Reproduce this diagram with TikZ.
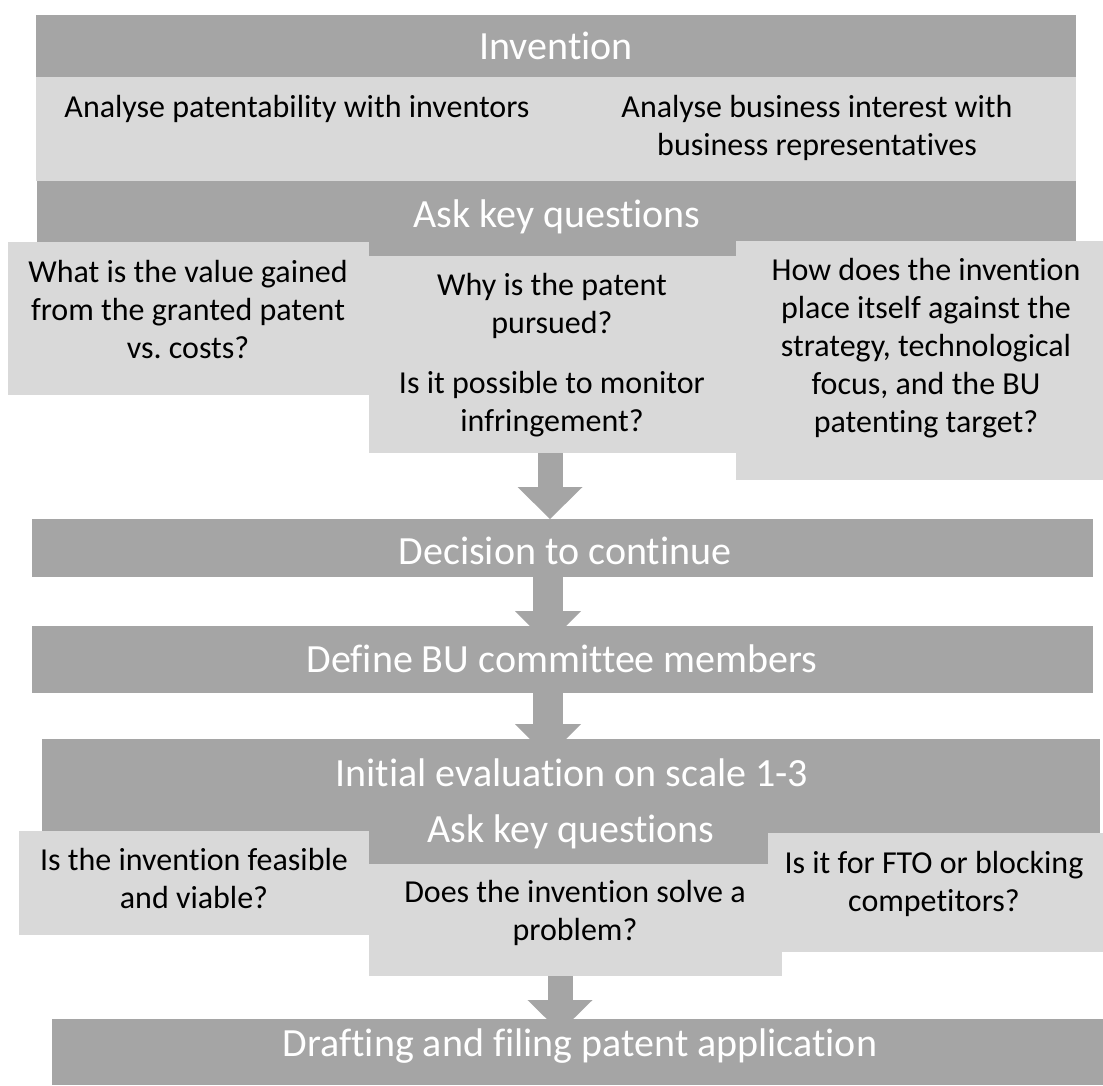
\documentclass[tikz,border=0pt]{standalone}
\usepackage{fontspec}
\setmainfont[Ligatures=NoCommon]{Carlito}
\usetikzlibrary{arrows.meta,backgrounds,calc}
\definecolor{bardark}{HTML}{A5A5A5}
\definecolor{boxlight}{HTML}{D9D9D9}
\newcommand\qstrut{\rule{0pt}{26pt}}
\frenchspacing

\tikzset{
  panel/.style={rectangle, inner sep=0pt, outer sep=0pt, anchor=north west, draw=none},
  darkbar/.style={panel, fill=bardark},
  lightbox/.style={panel, fill=boxlight},
  title/.style={text=white, font=\fontsize{40}{46}\selectfont, inner sep=0pt, anchor=base},
  bodyline/.style={text=black, font=\fontsize{32}{38}\selectfont, inner sep=0pt, anchor=base},
  qtext/.style={text=black, font=\fontsize{32}{38}\selectfont, inner sep=0pt, align=center, anchor=north},
  flowwide/.style={draw=bardark, line width=25pt, -{Triangle[width=65pt,length=32pt,line width=0pt]}},
  flowmid/.style={draw=bardark, line width=30pt, -{Triangle[width=66pt,length=33pt,line width=0pt]}}
}

\begin{document}
\begin{tikzpicture}[x=1pt,y=-1pt]
\useasboundingbox (0,0) rectangle (1103,1085);

% ---- invention and first round of questions
\node[darkbar, minimum width=1040, minimum height=62] (inv) at (36,15) {};
\node[lightbox, minimum width=1040, minimum height=104] (analyse) at (36,77) {};
\node[darkbar, minimum width=1039, minimum height=75] (askbar) at (37,181) {};
\node[lightbox, minimum width=361, minimum height=153] (valuebox) at (8,242) {};
\node[lightbox, minimum width=367, minimum height=239] (strategybox) at (736,241) {};
\node[lightbox, minimum width=367, minimum height=197] (whybox) at (369,256) {};

\node[title] (invtxt) at (556,59) {Invention};
\node[bodyline] (pattxt) at (297,117) {Analyse patentability with inventors};
\node[qtext] (bustxt) at (817,91) {\qstrut Analyse business interest with\\business representatives};
\node[title] (ask1txt) at (557,227) {Ask key questions};
\node[qtext] (valtxt) at (188,256) {\qstrut What is the value gained\\from the granted patent\\vs.\ costs?};
\node[qtext] (whytxt) at (552,269) {\qstrut Why is the patent\\pursued?\\[22pt]Is it possible to monitor\\infringement?};
\node[qtext] (strtxt) at (926,254) {\qstrut How does the invention\\place itself against the\\strategy, technological\\focus, and the BU\\patenting target?};

% ---- decision and committee
\node[darkbar, minimum width=1061, minimum height=58] (decision) at (32,519) {};
\node[title] (dectxt) at (565,564) {Decision to continue};
\node[darkbar, minimum width=1061, minimum height=67] (committee) at (32,626) {};
\node[title] (comtxt) at (562,672) {Define BU committee members};

% ---- initial evaluation and second round of questions
\node[darkbar, minimum width=1058, minimum height=125] (initial) at (42,739) {};
\node[lightbox, minimum width=335, minimum height=119] (ftobox) at (768,833) {};
\node[lightbox, minimum width=350, minimum height=104] (feasbox) at (19,831) {};
\node[lightbox, minimum width=413, minimum height=112] (solvebox) at (369,864) {};
\node[title] (initxt) at (572,786) {Initial evaluation on scale 1-3};
\node[title] (ask2txt) at (571,842) {Ask key questions};
\node[qtext] (feastxt) at (194,844) {\qstrut Is the invention feasible\\and viable?};
\node[qtext] (solvetxt) at (575,876) {\qstrut Does the invention solve a\\problem?};
\node[qtext] (ftotxt) at (934,847) {\qstrut Is it for FTO or blocking\\competitors?};

% ---- final step
\node[darkbar, minimum width=1051, minimum height=66] (drafting) at (52,1019) {};
\node[title] (drafttxt) at (580,1056) {Drafting and filing patent application};

% ---- columns of the block arrows
\coordinate (colA) at (550,0);
\coordinate (colB) at (548,0);
\coordinate (colC) at (560,0);

\begin{scope}[on background layer]
  \fill[white] (0,0) rectangle (1103,1085);
  \draw[flowwide] (whybox.south -| colA) -- (decision.north -| colA);
  \draw[flowmid] (decision.south -| colB) -- ($(committee.north -| colB)+(0,18)$);
  \draw[flowmid] (committee.south -| colB) -- ($(initial.north -| colB)+(0,18)$);
  \draw[flowwide] (solvebox.south -| colC) -- ($(drafting.north -| colC)+(0,13)$);
\end{scope}
\end{tikzpicture}
\end{document}
